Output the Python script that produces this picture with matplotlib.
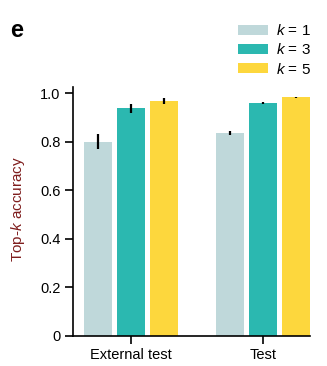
import numpy as np
import matplotlib
matplotlib.use('Agg')
import matplotlib.pyplot as plt
from matplotlib.patches import Patch

plt.rcParams['font.family'] = ['Liberation Sans', 'DejaVu Sans']
plt.rcParams['mathtext.fontset'] = 'custom'
plt.rcParams['mathtext.it'] = 'Liberation Sans:italic'
plt.rcParams['mathtext.rm'] = 'Liberation Sans'

# DATA
groups = ['External test', 'Test']
k_labels = ['$k$ = 1', '$k$ = 3', '$k$ = 5']
acc_k1 = [0.800, 0.835]
acc_k3 = [0.938, 0.959]
acc_k5 = [0.967, 0.983]
err_k1 = [0.030, 0.009]
err_k3 = [0.019, 0.004]
err_k5 = [0.013, 0.002]
y_ticks = [0, 0.2, 0.4, 0.6, 0.8, 1.0]
y_tick_labels = ['0', '0.2', '0.4', '0.6', '0.8', '1.0']

colors = ['#bfd8da', '#2bb8b0', '#fdd73d']

fig = plt.figure(figsize=(3.27, 3.66), dpi=100)
ax = fig.add_axes([0.223, 0.082, 0.725, 0.68])

x = np.arange(len(groups))
offset = 0.25
width = 0.207
series = [(acc_k1, err_k1), (acc_k3, err_k3), (acc_k5, err_k5)]
for i, (vals, errs) in enumerate(series):
    pos = x + (i - 1) * offset
    ax.bar(pos, vals, width=width, color=colors[i], label=k_labels[i], zorder=1)
    ax.errorbar(pos, vals, yerr=errs, fmt='none', ecolor='black', elinewidth=1.6, capsize=0, zorder=2)

ax.set_xlim(-0.44, 1.355)
ax.set_ylim(0, 1.025)
ax.set_xticks(x)
ax.set_xticklabels(groups, fontsize=10.5)
ax.set_yticks(y_ticks)
ax.set_yticklabels(y_tick_labels, fontsize=10.5)
ax.tick_params(axis='both', direction='out', length=6, width=1.2, color='black', pad=3)
for side in ['top', 'right']:
    ax.spines[side].set_visible(False)
for side in ['left', 'bottom']:
    ax.spines[side].set_linewidth(1.2)

ax.set_ylabel('Top-$k$ accuracy', fontsize=11, color='#7f1d1d')
ax.yaxis.set_label_coords(-0.194, 0.51)

handles = [Patch(facecolor=c, edgecolor='none') for c in colors]
fig.legend(handles, k_labels, loc='upper left', bbox_to_anchor=(0.727, 0.937),
           frameon=False, fontsize=11, handlelength=1.95, handleheight=0.65,
           labelspacing=0.28, handletextpad=0.55, borderaxespad=0, borderpad=0)

fig.text(0.03, 0.898, 'e', fontsize=17, fontweight='bold')

fig.savefig('out.png', dpi=100)
